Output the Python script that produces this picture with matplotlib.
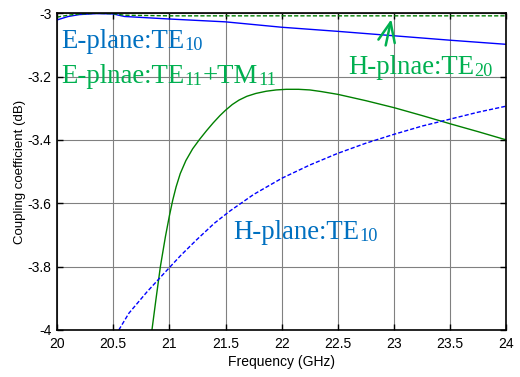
import matplotlib
matplotlib.use("Agg")
import matplotlib.pyplot as plt

plt.rcParams["font.family"] = ["Liberation Sans", "DejaVu Sans"]

# E-plane TE10 (solid blue)
f_e10 = [20.0, 20.1, 20.2, 20.35, 20.5, 20.55, 20.6, 21.0, 21.5, 22.0, 22.5, 23.0, 23.5, 24.0]
c_e10 = [-3.021, -3.010, -3.004, -3.001, -3.002, -3.006, -3.010, -3.018, -3.027, -3.044,
         -3.057, -3.071, -3.085, -3.098]

# H-plane TE20 (dashed green)
f_h20 = [20.0, 20.1, 20.2, 20.35, 20.5, 20.6, 21.0, 22.0, 23.0, 24.0]
c_h20 = [-3.012, -3.006, -3.002, -3.000, -3.001, -3.006, -3.008, -3.008, -3.008, -3.008]

# E-plane TE11+TM11 (solid green)
f_e11 = [20.845, 20.88, 20.92, 20.965, 21.0, 21.03, 21.06, 21.097, 21.147, 21.207, 21.269,
         21.33, 21.39, 21.45, 21.5, 21.56, 21.62, 21.69, 21.77, 21.863, 21.95, 22.04, 22.15,
         22.25, 22.35, 22.5, 22.75, 23.0, 23.25, 23.5, 23.75, 24.0]
c_e11 = [-4.0, -3.905, -3.80, -3.705, -3.64, -3.59, -3.548, -3.506, -3.465, -3.428, -3.398,
         -3.371, -3.346, -3.323, -3.306, -3.288, -3.274, -3.262, -3.253, -3.246, -3.242,
         -3.240, -3.240, -3.242, -3.247, -3.256, -3.276, -3.298, -3.323, -3.349, -3.374, -3.40]

# H-plane TE10 (dashed blue)
f_h10 = [20.55, 20.64, 20.8, 20.94, 21.1, 21.24, 21.4, 21.54, 21.75, 22.0, 22.25, 22.5,
         22.75, 23.0, 23.25, 23.5, 23.75, 24.0]
c_h10 = [-4.0, -3.947, -3.88, -3.826, -3.765, -3.716, -3.663, -3.624, -3.572, -3.521, -3.479,
         -3.442, -3.410, -3.382, -3.356, -3.334, -3.312, -3.293]

xticks = [20, 20.5, 21, 21.5, 22, 22.5, 23, 23.5, 24]
xlabels = ["20", "20.5", "21", "21.5", "22", "22.5", "23", "23.5", "24"]
yticks = [-4, -3.8, -3.6, -3.4, -3.2, -3]
ylabels = ["-4", "-3.8", "-3.6", "-3.4", "-3.2", "-3"]

fig = plt.figure(figsize=(5.2, 3.77), dpi=100)
ax = fig.add_axes([0.1096, 0.1247, 0.8644, 0.840])

ax.plot(f_e10, c_e10, color="#0000FF", lw=1.0)
ax.plot(f_h20, c_h20, color="#008000", lw=1.0, ls=(0, (3, 1.5)))
ax.plot(f_e11, c_e11, color="#008000", lw=1.0)
ax.plot(f_h10, c_h10, color="#0000FF", lw=1.0, ls=(0, (3, 1.5)))

ax.set_xlim(20, 24)
ax.set_ylim(-4, -3)
ax.set_xticks(xticks)
ax.set_xticklabels(xlabels)
ax.set_yticks(yticks)
ax.set_yticklabels(ylabels)
ax.tick_params(direction="in", top=True, right=True, labelsize=10, length=4, width=1)
ax.tick_params(axis="x", pad=5)
ax.tick_params(axis="y", pad=4)
ax.grid(True, color="#808080", lw=0.8)
for s in ax.spines.values():
    s.set_linewidth(1.2)

ax.set_xlabel("Frequency (GHz)", fontsize=10, labelpad=3)
ax.set_ylabel("Coupling coefficient (dB)", fontsize=9.5, labelpad=1)


# text with subscripts, pieces placed one after another
def label(x, y, parts, color, size=19.3):
    renderer = fig.canvas.get_renderer()
    px, py = ax.transData.transform((x, y))
    for s, sub in parts:
        t = fig.text(px, py - (1.5 if sub else 0), s, transform=None, color=color,
                     fontsize=size * 0.68 if sub else size, va="baseline",
                     family=["Liberation Serif", "DejaVu Serif"])
        px = t.get_window_extent(renderer).x1


label(20.04, -3.1105, [("E-plane:TE", False), ("10", True)], "#0070C0")
label(20.04, -3.221, [("E-plnae:TE", False), ("11", True), ("+TM", False), ("11", True)],
      "#00B050")
label(22.59, -3.193, [("H-plnae:TE", False), ("20", True)], "#00B050")
label(21.572, -3.713, [("H-plane:TE", False), ("10", True)], "#0070C0")

ax.annotate("", xy=(22.98, -3.01), xytext=(22.92, -3.11),
            arrowprops=dict(arrowstyle="->,head_length=1.4,head_width=0.6",
                            color="#00B050", lw=1.8))

fig.savefig("out.png", dpi=100)
